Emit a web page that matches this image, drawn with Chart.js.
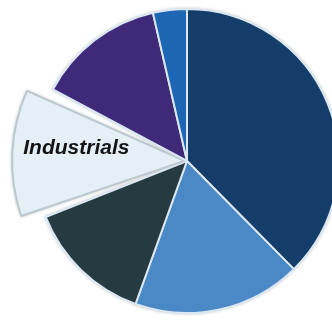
<!DOCTYPE html>
<html>
<head>
<meta charset="utf-8">
<script src="https://cdn.jsdelivr.net/npm/chart.js@4/dist/chart.umd.min.js"></script>
<style>
  html, body { margin: 0; padding: 0; background: #ffffff; overflow: hidden; width: 332px; height: 321px; }
  #wrap { position: absolute; left: 0; top: 0; width: 374px; height: 322px; }
  #wrap canvas { filter: drop-shadow(0 0 1.5px rgba(90, 100, 110, 0.35)); }
</style>
</head>
<body>
<div id="wrap"><canvas id="pie"></canvas></div>
<script>
// Sector weights (%), clockwise from 12 o'clock
const sectors = ['Financials', 'Consumer', 'Energy', 'Industrials', 'Technology', 'Utilities'];
const weights = [37.6, 17.9, 13.5, 13.8, 13.6, 3.6];
const sliceColors = ['#153d69', '#4a88c6', '#263a41', '#e5eff6', '#3e2a79', '#1d66b4'];
const edgeColors = ['#dbe7f3', '#dbe7f3', '#dbe7f3', '#bcc8ce', '#dbe7f3', '#dbe7f3'];
const labelledSector = 'Industrials';

const highlightIdx = sectors.indexOf(labelledSector);
const DEG = Math.PI / 180;

// The highlighted slice stands out: drawn larger, with a thin gap to its neighbours
const popSlice = {
  id: 'popSlice',
  afterDatasetsUpdate(chart) {
    const arc = chart.getDatasetMeta(0).data[highlightIdx];
    if (!arc) return;
    arc.outerRadius *= 1.13;
    arc.startAngle += 2.9 * DEG;
    arc.endAngle -= 4.1 * DEG;
  }
};

// Category name written inside the highlighted slice
const sliceLabel = {
  id: 'sliceLabel',
  afterDatasetsDraw(chart) {
    const arc = chart.getDatasetMeta(0).data[highlightIdx];
    if (!arc) return;
    const mid = (arc.startAngle + arc.endAngle) / 2;
    const r = arc.outerRadius * 0.645;
    const x = arc.x + Math.cos(mid) * r;
    const y = arc.y + Math.sin(mid) * r - 8;
    const ctx = chart.ctx;
    ctx.save();
    ctx.font = 'italic bold 21px "Liberation Sans", Arial, sans-serif';
    ctx.fillStyle = '#141414';
    ctx.textAlign = 'center';
    ctx.textBaseline = 'middle';
    ctx.fillText(sectors[highlightIdx], x, y);
    ctx.restore();
  }
};

new Chart(document.getElementById('pie'), {
  type: 'pie',
  data: {
    labels: sectors,
    datasets: [{
      data: weights,
      backgroundColor: sliceColors,
      borderColor: edgeColors,
      borderWidth: 2,
      offset: sectors.map((s, i) => i === highlightIdx ? 10 : 0)
    }]
  },
  options: {
    responsive: true,
    maintainAspectRatio: false,
    animation: false,
    layout: { padding: 3 },
    plugins: {
      legend: { display: false },
      tooltip: { enabled: false }
    }
  },
  plugins: [popSlice, sliceLabel]
});
</script>
</body>
</html>
